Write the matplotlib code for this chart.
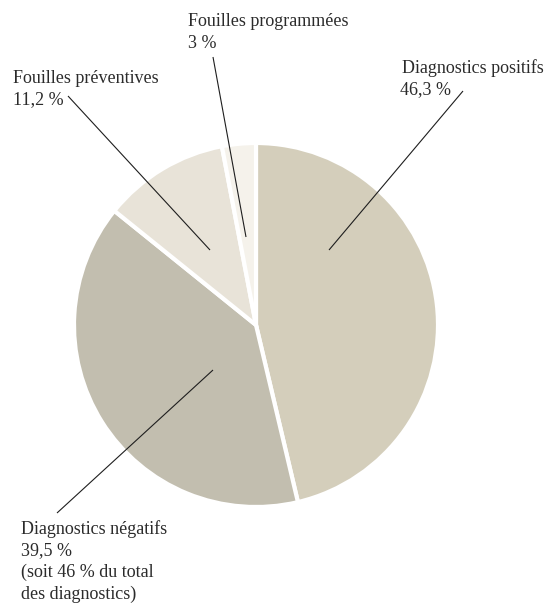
import matplotlib.pyplot as plt

# data
labels = ["Diagnostics positifs", "Diagnostics négatifs",
          "Fouilles préventives", "Fouilles programmées"]
values = [46.3, 39.5, 11.2, 3.0]
value_texts = ["46,3 %", "39,5 %", "11,2 %", "3 %"]
note_negatifs = ["(soit 46 % du total", "des diagnostics)"]
colors = ["#d4cebb", "#c2beaf", "#e8e3d8", "#f5f2eb"]

W, H = 558, 608
plt.rcParams['font.family'] = ['Liberation Serif', 'DejaVu Serif']
TXT = "#2b2b2b"

fig = plt.figure(figsize=(W / 100, H / 100), dpi=100)
ax = fig.add_axes([0, 0, 1, 1])

# y axis runs downwards (pixel-like), so counterclockwise in data is clockwise on screen
ax.pie(values, colors=colors, startangle=-90, counterclock=True,
       center=(256, 325), radius=182,
       wedgeprops=dict(edgecolor="white", linewidth=3))
ax.set_xlim(0, W)
ax.set_ylim(H, 0)
ax.set_aspect("equal")
ax.axis("off")

# leader lines: (inner point, outer point)
leaders = [
    ((329, 250), (463, 91)),
    ((213, 370), (57, 513)),
    ((210, 250), (68, 96)),
    ((246, 237), (213, 57)),
]
# label anchors (x, first baseline)
anchors = [(402, 73), (21, 534), (13, 83), (188, 26)]
line_h = 21.5

for i, lab in enumerate(labels):
    (x0, y0), (x1, y1) = leaders[i]
    ax.plot([x0, x1], [y0, y1], color="#1e1e1e", lw=0.8, solid_capstyle="butt")
    lines = [lab, value_texts[i]]
    if i == 1:
        lines += note_negatifs
    tx, ty = anchors[i]
    for k, s in enumerate(lines):
        dx = -2 if (i == 0 and k == 1) else 0
        ax.text(tx + dx, ty + k * line_h, s, fontsize=13, color=TXT,
                ha="left", va="baseline")

fig.savefig("out.png", dpi=100, facecolor="white")
